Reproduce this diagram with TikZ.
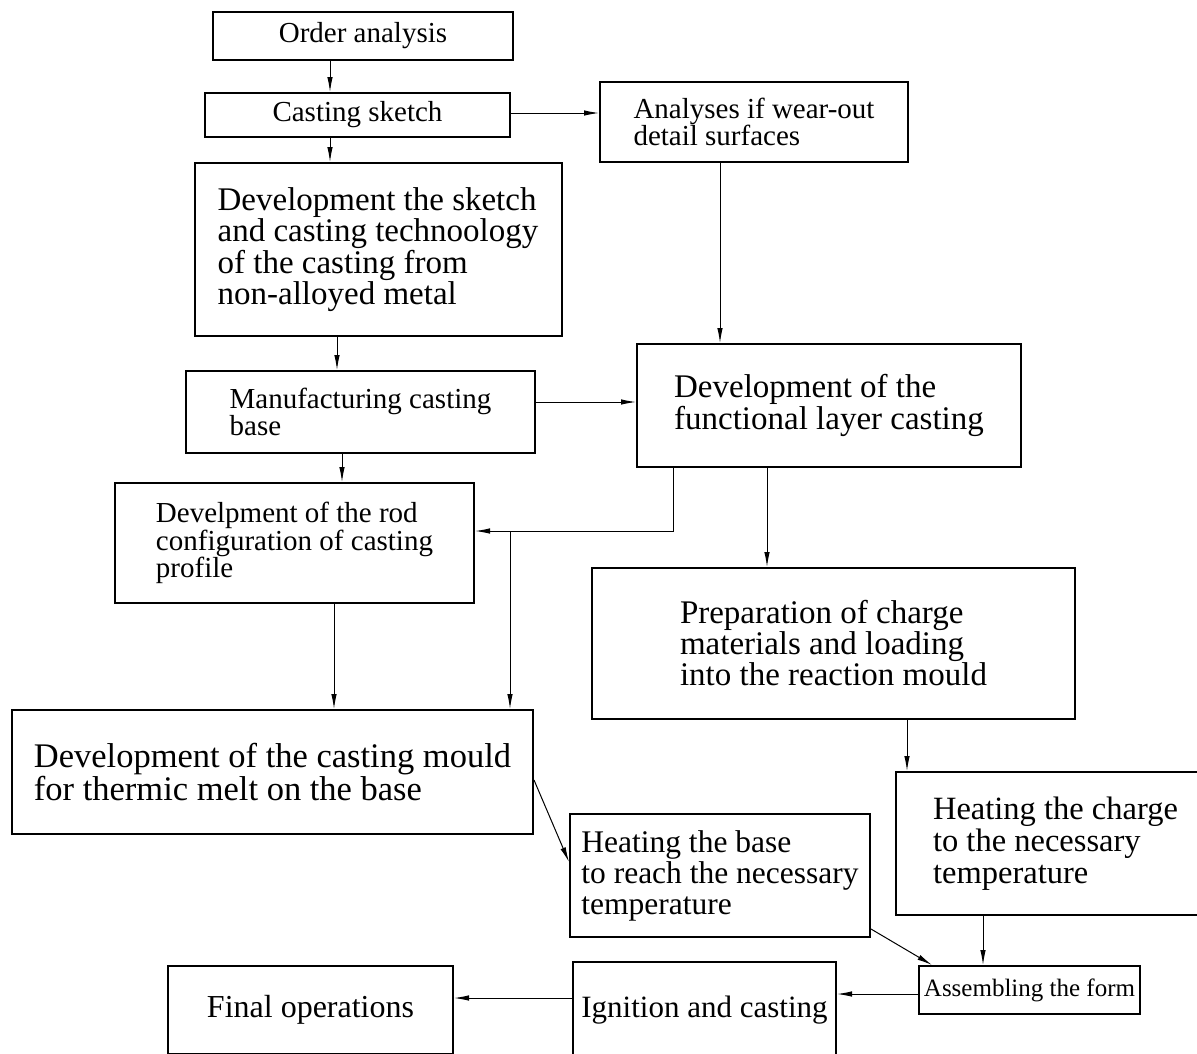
\documentclass[tikz,border=0pt]{standalone}
\usepackage{fontspec}
\setmainfont{Liberation Serif}
\usepackage{tikz}
\usetikzlibrary{arrows.meta}
\usetikzlibrary{positioning}

\tikzset{
	box/.style={draw, line width=2pt, align=left, inner sep=2pt},
	small/.style={font=\fontsize{29}{25}\selectfont},
	large/.style={font=\fontsize{33}{29}\selectfont},
	arr/.style={line width=1pt, -{Latex[length=15pt,width=5.5pt]}},
}

\begin{document}
\begin{tikzpicture}[x=1pt,y=-1pt]
		\clip (0,0) rectangle (1197,1053);
		\fill[white] (0,0) rectangle (1197,1053);
		
		% left column
		\node[box,small,minimum width=300pt,minimum height=48pt] (ord) at (363,36) {Order analysis};
		\node[box,small,minimum width=305pt,minimum height=44pt] (sk) at (357.5,115) {Casting sketch};
		\node[box,large,minimum width=367pt,minimum height=173pt] (dsk) at (378,249.5) {Development the sketch\\and casting technoology\\of the casting from\\non-alloyed metal};
		\node[box,small,minimum width=349pt,minimum height=82pt] (man) at (360.5,412) {Manufacturing casting\\base};
		\node[box,small,minimum width=359pt,minimum height=120pt] (rod) at (294.5,543) {Develpment of the rod\\configuration of casting\\profile};
		\node[box,font=\fontsize{34.5}{31}\selectfont,minimum width=521pt,minimum height=124pt] (mould) at (272.5,772) {Development of the casting mould\\for thermic melt on the base};
		
		% right column
		\node[box,small,minimum width=308pt,minimum height=80pt] (ana) at (754,122) {Analyses if wear-out\\detail surfaces};
		\node[box,large,minimum width=384pt,minimum height=123pt] (fun) at (829,405.5) {Development of the\\functional layer casting};
		\node[box,large,minimum width=483pt,minimum height=151pt] (prep) at (833.5,643.5) {Preparation of charge\\materials and loading\\into the reaction mould};
		\node[box,font=\fontsize{31.5}{31}\selectfont,minimum width=300pt,minimum height=123pt] (hb) at (720,875.5) {Heating the base\\to reach the necessary\\temperature};
		\node[box,font=\fontsize{32.5}{32}\selectfont,minimum width=319pt,minimum height=143pt] (hc) at (1055.5,843.5) {Heating the charge\\to the necessary\\temperature};
		
		% bottom row
		\node[box,font=\fontsize{25}{22}\selectfont,inner xsep=1pt,minimum width=221pt,minimum height=48pt] (asm) at (1029.5,990) {Assembling the form};
		\node[box,font=\fontsize{31}{26}\selectfont,minimum width=263pt,minimum height=96pt] (ign) at (704.5,1010) {Ignition and casting};
		\node[box,font=\fontsize{32}{26}\selectfont,minimum width=285pt,minimum height=88pt] (fin) at (310.5,1010) {Final operations};
		
		\draw[arr] ([xshift=-33pt]ord.south) -- ([xshift=-33pt]ord.south |- sk.north);
		\draw[arr] ([xshift=-27.5pt]sk.south) -- ([xshift=-27.5pt]sk.south |- dsk.north);
		\draw[arr] ([yshift=2pt]sk.east) -- ([yshift=2pt]sk.east -| ana.west);
		\draw[arr] ([xshift=-34pt]ana.south) -- ([xshift=-34pt]ana.south |- fun.north);
		\draw[arr] ([xshift=-41pt]dsk.south) -- ([xshift=-41pt]dsk.south |- man.north);
		\draw[arr] ([yshift=10pt]man.east) -- ([yshift=10pt]man.east -| fun.west);
		\draw[arr] ([xshift=-18.5pt]man.south) -- ([xshift=-18.5pt]man.south |- rod.north);
		
		% functional layer back to the rod and on to the mould
		\draw[arr] ([xshift=-156pt]fun.south) |- ([yshift=12pt]rod.east);
		\coordinate (br) at ([xshift=35pt,yshift=12pt]rod.east);
		\draw[arr] (br) -- (br |- mould.north);
		
		\draw[arr] ([xshift=-62pt]fun.south) -- ([xshift=-62pt]fun.south |- prep.north);
		\draw[arr] ([xshift=39.5pt]rod.south) -- ([xshift=39.5pt]rod.south |- mould.north);
		\draw[arr] ([yshift=-8pt]mould.east) -- ([yshift=13.5pt]hb.west);
		\draw[arr] ([xshift=73.5pt]prep.south) -- ([xshift=73.5pt]prep.south |- hc.north);
		\draw[arr] ([yshift=9pt]hb.south east) -- ([xshift=14pt]asm.north west);
		\draw[arr] ([xshift=-72.5pt]hc.south) -- ([xshift=-72.5pt]hc.south |- asm.north);
		\draw[arr] ([yshift=-4pt]asm.west) -- ([yshift=-4pt]asm.west -| ign.east);
		\draw[arr] ([yshift=12pt]ign.west) -- ([yshift=12pt]ign.west -| fin.east);
\end{tikzpicture}
\end{document}
